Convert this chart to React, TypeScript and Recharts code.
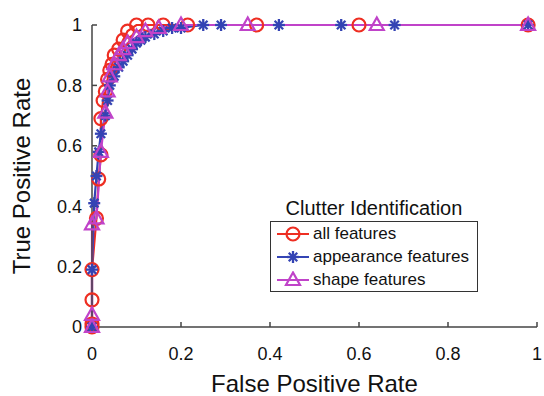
import React from 'react';
import { LineChart, Line, XAxis, YAxis, Legend } from 'recharts';

// ROC points (false positive rate, true positive rate)
const allFpr = [0, 0, 0, 0, 0.01, 0.015, 0.02, 0.02, 0.025, 0.03, 0.035, 0.04, 0.045, 0.05, 0.06, 0.07, 0.08, 0.1, 0.126, 0.16, 0.215, 0.37, 0.6, 0.98];
const allTpr = [0, 0.01, 0.09, 0.19, 0.36, 0.49, 0.57, 0.69, 0.75, 0.78, 0.82, 0.85, 0.87, 0.9, 0.92, 0.95, 0.98, 1, 1, 1, 1, 1, 1, 1];

const appFpr = [0, 0, 0.005, 0.01, 0.015, 0.02, 0.03, 0.035, 0.04, 0.05, 0.06, 0.07, 0.08, 0.09, 0.1, 0.11, 0.12, 0.14, 0.16, 0.18, 0.2, 0.25, 0.29, 0.42, 0.56, 0.68, 0.98];
const appTpr = [0, 0.19, 0.41, 0.5, 0.58, 0.64, 0.7, 0.75, 0.8, 0.83, 0.86, 0.88, 0.9, 0.92, 0.94, 0.95, 0.96, 0.97, 0.98, 0.99, 0.99, 1, 1, 1, 1, 1, 1];

const shapeFpr = [0, 0, 0, 0.01, 0.02, 0.03, 0.035, 0.04, 0.05, 0.06, 0.07, 0.08, 0.1, 0.12, 0.15, 0.2, 0.35, 0.64, 0.98];
const shapeTpr = [0, 0.04, 0.34, 0.36, 0.58, 0.71, 0.78, 0.83, 0.87, 0.9, 0.92, 0.94, 0.96, 0.98, 0.99, 1, 1, 1, 1];

const ticks = [0, 0.2, 0.4, 0.6, 0.8, 1];

const RED = '#ee2e22';
const BLUE = '#3444b4';
const PURPLE = '#c043c9';
const FONT = '"Liberation Sans", Arial, sans-serif';

const toPoints = (xs: number[], ys: number[]) => xs.map((x, i) => ({ x, y: ys[i] }));

const CircleMark = ({ cx, cy, stroke }: any) => (
  <circle cx={cx} cy={cy} r={6.5} fill="none" stroke={stroke} strokeWidth={2.2} />
);

const StarMark = ({ cx, cy, stroke }: any) => {
  const r = 6;
  const d = r * 0.707;
  return (
    <g stroke={stroke} strokeWidth={2.3}>
      <line x1={cx - r} y1={cy} x2={cx + r} y2={cy} />
      <line x1={cx} y1={cy - r} x2={cx} y2={cy + r} />
      <line x1={cx - d} y1={cy - d} x2={cx + d} y2={cy + d} />
      <line x1={cx - d} y1={cy + d} x2={cx + d} y2={cy - d} />
    </g>
  );
};

const TriMark = ({ cx, cy, stroke }: any) => (
  <polygon
    points={`${cx},${cy - 7.5} ${cx - 7},${cy + 5} ${cx + 7},${cy + 5}`}
    fill="none"
    stroke={stroke}
    strokeWidth={2.2}
  />
);

const series = [
  { name: 'all features', data: toPoints(allFpr, allTpr), color: RED, Mark: CircleMark },
  { name: 'appearance features', data: toPoints(appFpr, appTpr), color: BLUE, Mark: StarMark },
  { name: 'shape features', data: toPoints(shapeFpr, shapeTpr), color: PURPLE, Mark: TriMark },
];

const LegendBox = () => (
  <div style={{ fontFamily: FONT, color: '#111' }}>
    <div style={{ fontSize: 20, lineHeight: '24px', textAlign: 'center' }}>Clutter Identification</div>
    <div style={{ border: '1.5px solid #333', marginTop: 1, padding: '0 6px 0 6px', width: 194 }}>
      {series.map((s) => {
        const M = s.Mark;
        return (
          <div key={s.name} style={{ display: 'flex', alignItems: 'center', height: 23, fontSize: 17 }}>
            <svg width={32} height={18} style={{ marginRight: 4 }}>
              <line x1={0} y1={9} x2={32} y2={9} stroke={s.color} strokeWidth={2} />
              <M cx={16} cy={9} stroke={s.color} />
            </svg>
            <span>{s.name}</span>
          </div>
        );
      })}
    </div>
  </div>
);

export default function App() {
  return (
    <div style={{ position: 'absolute', left: 0, top: 0, width: 544, height: 396, background: '#fff' }}>
      <LineChart width={544} height={396} margin={{ top: 25, right: 7, bottom: 29, left: 32 }}>
        <XAxis
          type="number"
          dataKey="x"
          domain={[0, 1]}
          ticks={ticks}
          height={40}
          tickSize={-5}
          tickMargin={25}
          stroke="#444"
          strokeWidth={1.5}
          tick={{ fontSize: 18, fill: '#111', fontFamily: FONT }}
          label={{ value: 'False Positive Rate', position: 'bottom', offset: 8, fontSize: 24, fill: '#111', fontFamily: FONT }}
        />
        <YAxis
          type="number"
          dataKey="y"
          domain={[0, 1]}
          ticks={ticks}
          width={60}
          tickSize={-5}
          tickMargin={15}
          stroke="#444"
          strokeWidth={1.5}
          tick={{ fontSize: 18, fill: '#111', fontFamily: FONT }}
          label={{ value: 'True Positive Rate', angle: -90, position: 'insideLeft', offset: -11, fontSize: 24, fill: '#111', fontFamily: FONT, style: { textAnchor: 'middle' } }}
        />
        <Legend
          layout="vertical"
          align="center"
          verticalAlign="middle"
          wrapperStyle={{ left: 270, top: 196, width: 'auto' }}
          content={() => <LegendBox />}
        />
        {series.map((s) => {
          const M = s.Mark;
          return (
            <Line
              key={s.name}
              data={s.data}
              dataKey="y"
              name={s.name}
              type="linear"
              stroke={s.color}
              strokeWidth={2.2}
              isAnimationActive={false}
              dot={(p: any) => <M key={`${s.name}-${p.index}`} cx={p.cx} cy={p.cy} stroke={s.color} />}
              activeDot={false}
            />
          );
        })}
      </LineChart>
    </div>
  );
}
